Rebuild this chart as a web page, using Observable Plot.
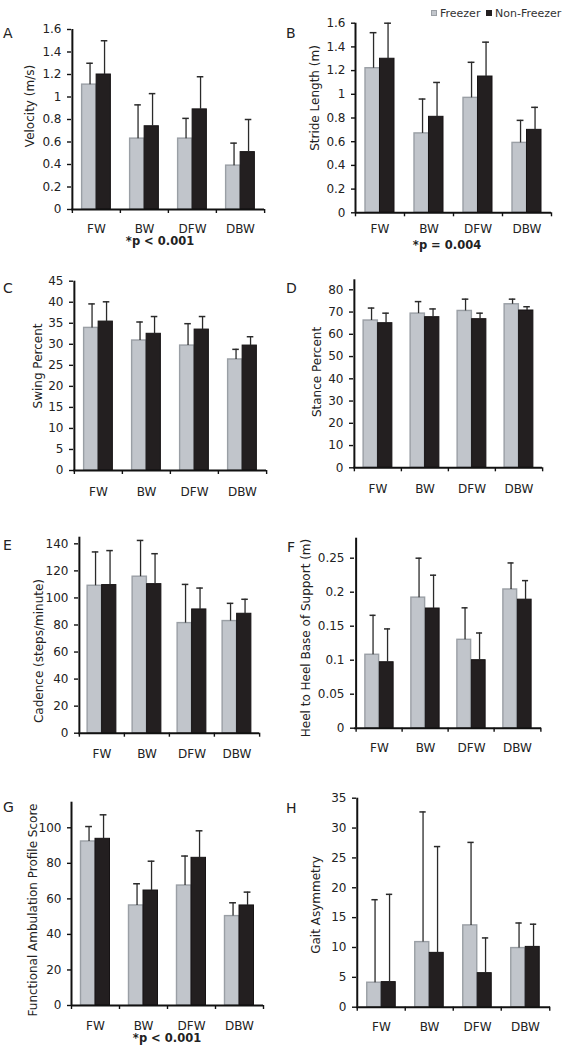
<!DOCTYPE html>
<html><head><meta charset="utf-8">
<script src="https://cdn.jsdelivr.net/npm/d3@7"></script>
<script src="https://cdn.jsdelivr.net/npm/@observablehq/plot@0.6"></script>
<style>
body{margin:0;background:#fff;}
#root{position:relative;width:567px;height:1050px;overflow:hidden;font-family:"DejaVu Sans",Verdana,sans-serif;color:#222;background:#fff;}
.lbl{position:absolute;white-space:nowrap;line-height:1;}
.ytitle{position:absolute;white-space:nowrap;line-height:1;font-size:12px;color:#222;transform-origin:0 0;transform:rotate(-90deg) translate(-50%,0);}
.sw{position:absolute;width:6px;height:6px;}
</style></head><body><div id="root"></div>
<script>
// ---- data ----
const categories = ["FW", "BW", "DFW", "DBW"];
const seriesNames = ["Freezer", "Non-Freezer"];

// A: Velocity (m/s)
const velocityFreezer = [1.11, 0.63, 0.63, 0.39];
const velocityFreezerSD = [0.19, 0.30, 0.18, 0.20];
const velocityNonFreezer = [1.20, 0.74, 0.89, 0.51];
const velocityNonFreezerSD = [0.30, 0.29, 0.29, 0.29];
const velocityTicks = [0, 0.2, 0.4, 0.6, 0.8, 1, 1.2, 1.4, 1.6];

// B: Stride Length (m)
const strideFreezer = [1.22, 0.67, 0.97, 0.59];
const strideFreezerSD = [0.30, 0.29, 0.30, 0.19];
const strideNonFreezer = [1.30, 0.81, 1.15, 0.70];
const strideNonFreezerSD = [0.30, 0.29, 0.29, 0.19];
const strideTicks = [0, 0.2, 0.4, 0.6, 0.8, 1, 1.2, 1.4, 1.6];

// C: Swing Percent
const swingFreezer = [33.9, 30.9, 29.7, 26.4];
const swingFreezerSD = [5.7, 4.4, 5.2, 2.4];
const swingNonFreezer = [35.4, 32.5, 33.5, 29.7];
const swingNonFreezerSD = [4.7, 4.1, 3.1, 2.1];
const swingTicks = [0, 5, 10, 15, 20, 25, 30, 35, 40, 45];

// D: Stance Percent
const stanceFreezer = [66.2, 69.3, 70.5, 73.5];
const stanceFreezerSD = [5.6, 5.4, 5.3, 2.3];
const stanceNonFreezer = [65.0, 67.7, 66.8, 70.7];
const stanceNonFreezerSD = [4.5, 3.7, 2.7, 1.7];
const stanceTicks = [0, 10, 20, 30, 40, 50, 60, 70, 80];

// E: Cadence (steps/minute)
const cadenceFreezer = [109, 115.7, 81.4, 82.9];
const cadenceFreezerSD = [25, 26.8, 28.6, 13.1];
const cadenceNonFreezer = [109.5, 110.2, 91.5, 88.3];
const cadenceNonFreezerSD = [25.5, 22.5, 15.8, 10.7];
const cadenceTicks = [0, 20, 40, 60, 80, 100, 120, 140];

// F: Heel to Heel Base of Support (m)
const baseFreezer = [0.108, 0.192, 0.130, 0.204];
const baseFreezerSD = [0.058, 0.058, 0.047, 0.039];
const baseNonFreezer = [0.097, 0.176, 0.100, 0.189];
const baseNonFreezerSD = [0.049, 0.049, 0.040, 0.028];
const baseTicks = [0, 0.05, 0.1, 0.15, 0.2, 0.25];

// G: Functional Ambulation Profile Score
const fapFreezer = [92.3, 56.3, 67.5, 50.3];
const fapFreezerSD = [8.4, 12.2, 16.6, 7.5];
const fapNonFreezer = [93.8, 64.7, 83.1, 56.3];
const fapNonFreezerSD = [13.5, 16.5, 15.2, 7.5];
const fapTicks = [0, 20, 40, 60, 80, 100];

// H: Gait Asymmetry
const asymFreezer = [4.1, 10.9, 13.7, 9.9];
const asymFreezerSD = [13.9, 21.8, 13.9, 4.2];
const asymNonFreezer = [4.2, 9.1, 5.7, 10.1];
const asymNonFreezerSD = [14.7, 17.8, 5.9, 3.8];
const asymTicks = [0, 5, 10, 15, 20, 25, 30, 35];

// ---- layout (pixels) ----
const panels = [
  {letter:"A", title:"Velocity (m/s)", F:velocityFreezer, Fsd:velocityFreezerSD, N:velocityNonFreezer, Nsd:velocityNonFreezerSD, ticks:velocityTicks, ymax:1.6,
   left:0, pw:283, xl:71, xr:264, yTop:29, yBot:209, gap:19, lx:3, ly:33, tx:24, ty:106, p:"*p < 0.001", px:160, py:242},
  {letter:"B", title:"Stride Length (m)", F:strideFreezer, Fsd:strideFreezerSD, N:strideNonFreezer, Nsd:strideNonFreezerSD, ticks:strideTicks, ymax:1.6,
   left:283, pw:284, xl:355, xr:551, yTop:22.7, yBot:212.3, gap:16, lx:286, ly:33, tx:309, ty:98, p:"*p = 0.004", px:447, py:246},
  {letter:"C", title:"Swing Percent", F:swingFreezer, Fsd:swingFreezerSD, N:swingNonFreezer, Nsd:swingNonFreezerSD, ticks:swingTicks, ymax:45,
   left:0, pw:283, xl:73, xr:266, yTop:280.7, yBot:470, gap:21, lx:3, ly:288, tx:32, ty:366},
  {letter:"D", title:"Stance Percent", F:stanceFreezer, Fsd:stanceFreezerSD, N:stanceNonFreezer, Nsd:stanceNonFreezerSD, ticks:stanceTicks, ymax:84.5,
   left:283, pw:284, xl:353, xr:542, yTop:279.3, yBot:467.3, gap:21, lx:286, ly:288, tx:311, ty:372},
  {letter:"E", title:"Cadence (steps/minute)", F:cadenceFreezer, Fsd:cadenceFreezerSD, N:cadenceNonFreezer, Nsd:cadenceNonFreezerSD, ticks:cadenceTicks, ymax:144.9,
   left:0, pw:283, xl:78, xr:259, yTop:536.7, yBot:732.7, gap:21, lx:3, ly:545, tx:33, ty:651},
  {letter:"F", title:"Heel to Heel Base of Support (m)", F:baseFreezer, Fsd:baseFreezerSD, N:baseNonFreezer, Nsd:baseNonFreezerSD, ticks:baseTicks, ymax:0.2794,
   left:283, pw:284, xl:354, xr:541, yTop:537.7, yBot:727.7, gap:20, lx:287, ly:547, tx:300, ty:638},
  {letter:"G", title:"Functional Ambulation Profile Score", F:fapFreezer, Fsd:fapFreezerSD, N:fapNonFreezer, Nsd:fapNonFreezerSD, ticks:fapTicks, ymax:114.4,
   left:0, pw:283, xl:71, xr:263, yTop:801.7, yBot:1005, gap:20, lx:3, ly:807, tx:27, ty:910, p:"*p < 0.001", px:167, py:1039},
  {letter:"H", title:"Gait Asymmetry", F:asymFreezer, Fsd:asymFreezerSD, N:asymNonFreezer, Nsd:asymNonFreezerSD, ticks:asymTicks, ymax:35,
   left:283, pw:284, xl:356, xr:550, yTop:797.7, yBot:1006.7, gap:20, lx:286, ly:808, tx:310, ty:905}
];

const root = document.getElementById("root");
const FREEZER_FILL = "#c1c5cb", FREEZER_STROKE = "#9a9fa5", NON_FILL = "#231f20";
const ERR = "#2a2a2a";
const barW = 14.5, capHalf = 3.4, errShift = 0.8;
const fmt = d => String(+d.toFixed(3));

function addLabel(text, cx, cy, size, weight, anchor) {
  const el = document.createElement("div");
  el.className = "lbl";
  el.textContent = text;
  el.style.fontSize = size + "px";
  el.style.fontWeight = weight || "normal";
  el.style.top = (cy - 0.48 * size) + "px";
  el.style.left = cx + "px";
  if (anchor === "middle") el.style.transform = "translateX(-50%)";
  root.appendChild(el);
  return el;
}

for (const P of panels) {
  const rows = categories.map((c, i) => ({cat: c, fm: P.F[i], fsd: P.Fsd[i], nm: P.N[i], nsd: P.Nsd[i]}));
  const top = Math.floor(P.yTop - 12);
  const bottom = Math.ceil(P.yBot + P.gap + 9);
  const bw = (P.xr - P.xl) / categories.length;
  const fc = bw / 2 - barW / 2 + errShift;
  const nc = bw / 2 + barW / 2 + errShift;
  const svg = Plot.plot({
    width: P.pw,
    height: bottom - top,
    marginLeft: P.xl - P.left,
    marginRight: P.left + P.pw - P.xr,
    marginTop: P.yTop - top,
    marginBottom: bottom - P.yBot,
    style: {fontFamily: "'DejaVu Sans', Verdana, sans-serif", fontSize: "12px", color: "#222", background: "transparent", overflow: "visible"},
    x: {domain: categories, padding: 0, axis: null},
    y: {domain: [0, P.ymax], axis: null},
    marks: [
      Plot.barY(rows, {x: "cat", y: "fm", fill: FREEZER_FILL, stroke: FREEZER_STROKE, strokeWidth: 1.4,
        insetLeft: bw / 2 - barW, insetRight: bw / 2}),
      Plot.barY(rows, {x: "cat", y: "nm", fill: NON_FILL, stroke: "#161314", strokeWidth: 1,
        insetLeft: bw / 2, insetRight: bw / 2 - barW}),
      Plot.ruleX(rows, {x: "cat", y1: "fm", y2: d => d.fm + d.fsd, dx: -barW / 2 + errShift, stroke: ERR, strokeWidth: 1.3}),
      Plot.tickY(rows, {x: "cat", y: d => d.fm + d.fsd, insetLeft: fc - capHalf, insetRight: bw - fc - capHalf, stroke: ERR, strokeWidth: 1.5}),
      Plot.ruleX(rows, {x: "cat", y1: "nm", y2: d => d.nm + d.nsd, dx: barW / 2 + errShift, stroke: ERR, strokeWidth: 1.3}),
      Plot.tickY(rows, {x: "cat", y: d => d.nm + d.nsd, insetLeft: nc - capHalf, insetRight: bw - nc - capHalf, stroke: ERR, strokeWidth: 1.5}),
      Plot.axisY({ticks: P.ticks, tickFormat: fmt, tickSize: 4, tickPadding: 6, label: null, stroke: "#111", strokeWidth: 1.4, fill: "#222", fontSize: 12}),
      Plot.axisX({ticks: categories, tickSize: 0, tickPadding: P.gap - 4.5, label: null, fill: "#222", fontSize: 12}),
      Plot.axisX({ticks: categories, tickSize: 4, tickFormat: () => "", dx: -bw / 2, label: null, stroke: "#111", strokeWidth: 1.4}),
      Plot.axisX({ticks: [categories[categories.length - 1]], tickSize: 4, tickFormat: () => "", dx: bw / 2, label: null, stroke: "#111", strokeWidth: 1.4}),
      Plot.ruleY([0], {stroke: "#111", strokeWidth: 2}),
      Plot.ruleX([categories[0]], {dx: -bw / 2, stroke: "#111", strokeWidth: 2})
    ]
  });
  svg.style.position = "absolute";
  svg.style.left = P.left + "px";
  svg.style.top = top + "px";
  svg.style.maxWidth = "none";
  root.appendChild(svg);

  addLabel(P.letter, P.lx, P.ly, 14, "normal");
  const t = document.createElement("div");
  t.className = "ytitle";
  t.textContent = P.title;
  t.style.left = P.tx + "px";
  t.style.top = P.ty + "px";
  root.appendChild(t);
  if (P.p) addLabel(P.p, P.px, P.py, 11.5, "bold", "middle");
}

// legend
const sw1 = document.createElement("div");
sw1.className = "sw";
sw1.style.cssText += `left:431px;top:10px;background:${FREEZER_FILL};border:1px solid ${FREEZER_STROKE};box-sizing:border-box;`;
root.appendChild(sw1);
addLabel(seriesNames[0], 440, 13, 11, "normal").style.color = "#333";
const sw2 = document.createElement("div");
sw2.className = "sw";
sw2.style.cssText += `left:486px;top:10px;background:${NON_FILL};`;
root.appendChild(sw2);
addLabel(seriesNames[1], 495, 13, 11, "normal").style.color = "#333";
</script>
</body></html>
